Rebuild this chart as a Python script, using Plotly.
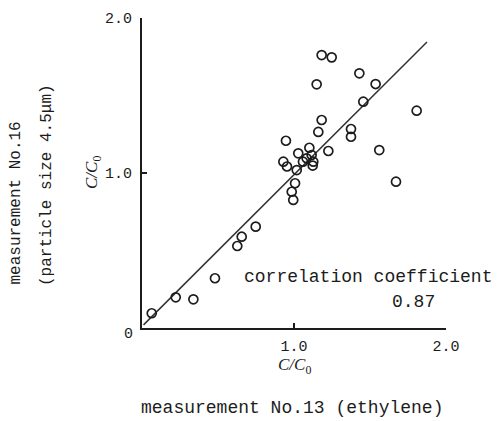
import plotly.graph_objects as go

# measured C/C0 values: x = measurement No.13 (ethylene), y = measurement No.16 (4.5 um)
x_no13 = [1.182, 1.248, 1.430, 1.537, 1.149, 1.456, 1.807, 1.182, 1.160, 1.375,
          1.375, 0.947, 1.561, 1.226, 1.671, 1.101, 1.028, 1.116, 1.083, 1.127,
          1.123, 0.930, 0.954, 1.018, 1.007, 0.985, 0.995, 1.059, 0.748, 0.656,
          0.627, 0.480, 0.222, 0.338, 0.064]
y_no16 = [1.761, 1.746, 1.643, 1.574, 1.572, 1.460, 1.402, 1.342, 1.265, 1.284,
          1.234, 1.208, 1.148, 1.142, 0.944, 1.163, 1.127, 1.116, 1.095, 1.073,
          1.048, 1.073, 1.042, 1.019, 0.934, 0.879, 0.826, 1.073, 0.654, 0.589,
          0.529, 0.321, 0.198, 0.185, 0.095]

# regression line end points
line_x = [0.01, 1.875]
line_y = [0.02, 1.845]

tick_vals = [1.0, 2.0]
tick_text = ["1.0", "2.0"]

corr_label = "correlation coefficient"
corr_value = "0.87"

W, H = 503, 421
# plot area in page pixels
X0, X1, Y0, Y1 = 142, 446, 18, 328
L, R, T, B = X0, W - X1, Y0, H - Y1
pw, ph = X1 - X0, Y1 - Y0

def px(xp):
    return (xp - X0) / pw

def py(yp):
    return (Y1 - yp) / ph

ink = "#1c1c1c"
mono = "Liberation Mono, DejaVu Sans Mono, monospace"
serif = "Liberation Serif, DejaVu Serif, serif"

fig = go.Figure()
fig.add_trace(go.Scatter(x=line_x, y=line_y, mode="lines",
                         line=dict(color="#333333", width=1.5),
                         hoverinfo="skip", showlegend=False))
fig.add_trace(go.Scatter(x=x_no13, y=y_no16, mode="markers",
                         marker=dict(symbol="circle-open", size=9,
                                     color=ink, line=dict(color=ink, width=1.7)),
                         showlegend=False))

axis_common = dict(
    range=[0, 2.0], showgrid=False, zeroline=False, showline=True,
    linecolor=ink, linewidth=2, ticks="inside", ticklen=5, tickwidth=1.5,
    tickcolor=ink, tickvals=tick_vals, ticktext=tick_text,
    tickfont=dict(family=mono, size=15, color=ink),
)
fig.update_xaxes(ticklabelstandoff=3, **axis_common)
fig.update_yaxes(ticklabelstandoff=5, **axis_common)


def note(xp, yp, text, size, family=mono, xanchor="center", yanchor="middle", angle=0):
    return dict(x=px(xp), y=py(yp), xref="paper", yref="paper", text=text,
                xanchor=xanchor, yanchor=yanchor, textangle=angle,
                showarrow=False, borderpad=0,
                font=dict(family=family, size=size, color=ink))


ann = [
    note(128, 334, "0", 15),
    note(294, 366, "<i>C/C</i><sub>0</sub>", 17, family=serif),
    note(93, 173, "<i>C/C</i><sub>0</sub>", 17, family=serif, angle=-90),
    note(243, 277, corr_label, 18, xanchor="left"),
    note(436, 302, corr_value, 18, xanchor="right"),
    note(292, 408, "measurement No.13 (ethylene)", 18),
    note(15, 286, "measurement No.16", 16, yanchor="bottom", angle=-90),
    note(47, 287, "(particle size 4.5μm)", 16, yanchor="bottom", angle=-90),
]

fig.update_layout(
    width=W, height=H, margin=dict(l=L, r=R, t=T, b=B),
    paper_bgcolor="white", plot_bgcolor="white",
    annotations=ann, showlegend=False,
)
fig.write_html(
    "out.html",
    config={"displayModeBar": False},
    post_script="document.body.style.margin='0';document.body.style.overflow='hidden';",
)
